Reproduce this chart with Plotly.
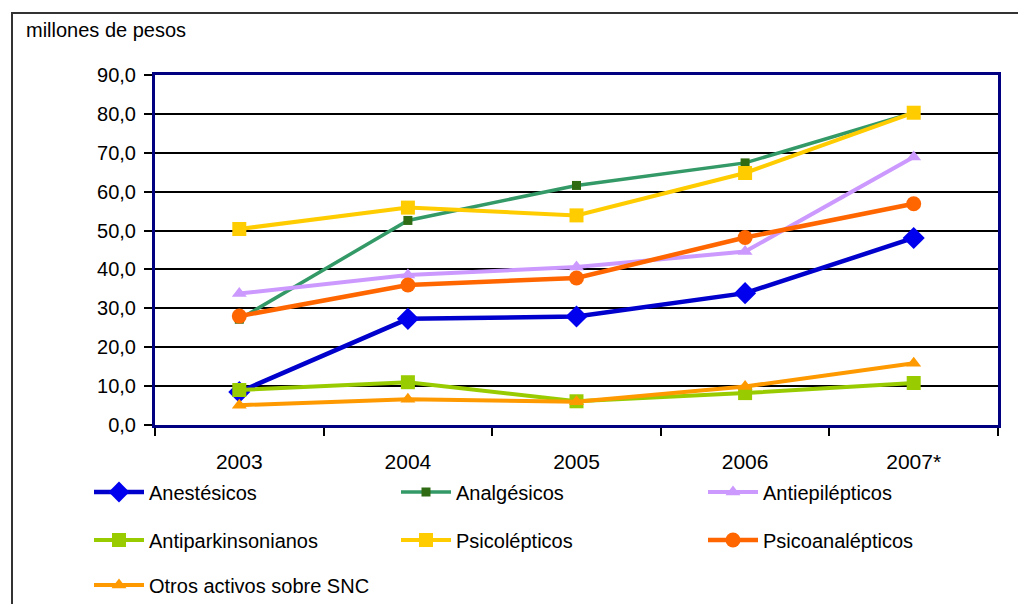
import plotly.graph_objects as go

years = ["2003", "2004", "2005", "2006", "2007*"]

anestesicos = [8.5, 27.3, 27.9, 33.9, 48.1]
analgesicos = [27.2, 52.6, 61.6, 67.4, 80.3]
antiepilepticos = [33.8, 38.6, 40.6, 44.6, 68.9]
antiparkinsonianos = [9.0, 11.0, 6.1, 8.2, 10.8]
psicolepticos = [50.4, 55.9, 53.9, 64.8, 80.3]
psicoanalepticos = [28.0, 36.0, 37.8, 48.2, 56.9]
otros_snc = [5.1, 6.6, 6.0, 9.9, 15.9]

y_ticks = [0, 10, 20, 30, 40, 50, 60, 70, 80, 90]

FONT = "Liberation Sans, Arial, sans-serif"

series = [
    # name, values, line colour, marker symbol, marker colour, marker size, line width, legend
    ("Anestésicos", anestesicos, "#0000CC", "diamond", "#0000EE", 17, 4.5, "legend"),
    ("Analgésicos", analgesicos, "#339966", "square", "#2F6B12", 9, 3.5, "legend"),
    ("Antiepilépticos", antiepilepticos, "#CC99FF", "triangle-up", "#CC99FF", 13, 4, "legend"),
    ("Antiparkinsonianos", antiparkinsonianos, "#99CC00", "square", "#99CC00", 14, 4, "legend2"),
    ("Psicolépticos", psicolepticos, "#FFCC00", "square", "#FFCC00", 14, 4, "legend2"),
    ("Psicoanalépticos", psicoanalepticos, "#FF6600", "circle", "#FF6600", 15, 4.5, "legend2"),
    ("Otros activos sobre SNC", otros_snc, "#FF9900", "triangle-up", "#FF9900", 13, 4, "legend3"),
]

fig = go.Figure()
for name, vals, lc, sym, mc, ms, lw, lg in series:
    fig.add_trace(go.Scatter(
        x=years, y=vals, name=name, mode="lines+markers",
        line=dict(color=lc, width=lw),
        marker=dict(symbol=sym, color=mc, size=ms, line=dict(width=0)),
        legend=lg,
    ))

W, H = 1018, 604
ML, MR, MT, MB = 155, 20, 75, 179
pw, ph = W - ML - MR, H - MT - MB


def px_x(px):
    return (px - ML) / pw


def px_y(py):
    return 1 - (py - MT) / ph


legend_common = dict(
    orientation="h", xanchor="left", yanchor="middle",
    entrywidth=242, entrywidthmode="pixels",
    font=dict(family=FONT, size=20, color="#000000"),
    bgcolor="rgba(0,0,0,0)", itemwidth=50,
    traceorder="normal",
)

fig.update_layout(
    width=W, height=H,
    margin=dict(l=ML, r=MR, t=MT, b=MB, autoexpand=False),
    paper_bgcolor="#FFFFFF", plot_bgcolor="#FFFFFF",
    separators=",.",
    font=dict(family=FONT, size=20, color="#000000"),
    showlegend=True,
    legend=dict(x=px_x(89), y=px_y(492), **legend_common),
    legend2=dict(x=px_x(89), y=px_y(540), **legend_common),
    legend3=dict(x=px_x(89), y=px_y(585), **legend_common),
    xaxis=dict(
        type="category", tickson="boundaries", range=[-0.5, 4.5],
        ticks="outside", ticklen=8, tickwidth=1.5, tickcolor="#000000",
        showline=True, linecolor="#000080", linewidth=3, mirror=True,
        showgrid=False, ticklabelstandoff=16,
        tickfont=dict(family=FONT, size=21, color="#000000"),
    ),
    yaxis=dict(
        range=[0, 90], tickvals=y_ticks, tickformat=".1f",
        ticks="outside", ticklen=8, tickwidth=1.5, tickcolor="#000000",
        showline=True, linecolor="#000080", linewidth=3, mirror=True,
        showgrid=True, gridcolor="#000000", gridwidth=1.5,
        zeroline=False, ticklabelstandoff=4,
        tickfont=dict(family=FONT, size=20, color="#000000"),
    ),
    shapes=[
        # outer frame around the whole chart
        dict(type="rect", xref="paper", yref="paper",
             x0=px_x(12), x1=px_x(1060), y0=px_y(650), y1=px_y(13),
             line=dict(color="#333333", width=2), fillcolor="rgba(0,0,0,0)",
             layer="below"),
    ],
    annotations=[
        dict(text="millones de pesos", xref="paper", yref="paper",
             x=px_x(24), y=px_y(30), xanchor="left", yanchor="middle",
             showarrow=False, font=dict(family=FONT, size=20, color="#000000")),
    ],
)

fig.write_html("out.html")
